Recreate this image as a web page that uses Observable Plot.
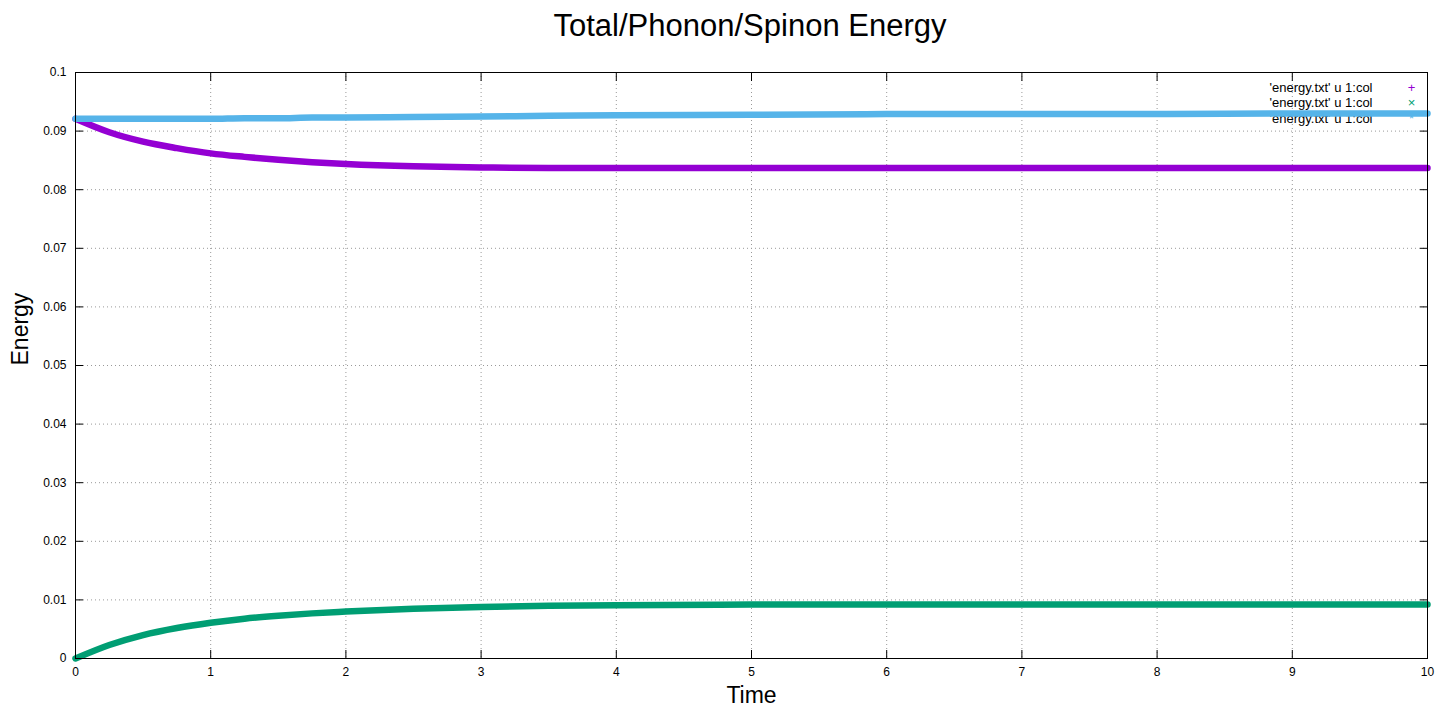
<!DOCTYPE html>
<html>
<head>
<meta charset="utf-8">
<script src="https://cdn.jsdelivr.net/npm/d3@7"></script>
<script src="https://cdn.jsdelivr.net/npm/@observablehq/plot@0.6"></script>
<style>
  html, body { margin: 0; padding: 0; background: #fff; }
  #title { width: 1448px; height: 50px; line-height: 52px; text-align: center; box-sizing: border-box; padding-left: 52px;
           font-family: "Liberation Sans", Arial, sans-serif; font-size: 31px; color: #000; }
  #chart svg { display: block; }
</style>
</head>
<body>
<div id="title">Total/Phonon/Spinon Energy</div>
<div id="chart"></div>
<script>
const time    = [0, 0.25, 0.5, 0.75, 1, 1.25, 1.5, 1.75, 2, 2.5, 3, 3.5, 4, 5, 6, 7, 8, 9, 10];
const spinon  = [0.0921, 0.0898, 0.0882, 0.0871, 0.0862, 0.0856, 0.0851, 0.0847, 0.0844, 0.0840, 0.0838, 0.0837, 0.0837, 0.0837, 0.0837, 0.0837, 0.0837, 0.0837, 0.0837];
const phonon  = [0.0000, 0.0023, 0.0040, 0.0052, 0.0061, 0.0068, 0.0073, 0.0077, 0.0080, 0.0085, 0.0088, 0.0090, 0.0091, 0.0092, 0.0092, 0.0092, 0.0092, 0.0092, 0.0092];
const total   = [0.0921, 0.0921, 0.0921, 0.0921, 0.0921, 0.0922, 0.0922, 0.0923, 0.0923, 0.0924, 0.0925, 0.0926, 0.0927, 0.0928, 0.0929, 0.0929, 0.0929, 0.0930, 0.0930];
const seriesNames  = ["spinon", "phonon", "total"];
const seriesColors = ["#9400d3", "#009e73", "#56b4e9"];
const legendLabels = ["'energy.txt' u 1:col", "'energy.txt' u 1:col", "'energy.txt' u 1:col"];
const legendSymbols = ["+", "×", "*"];
const xTicks = [0, 1, 2, 3, 4, 5, 6, 7, 8, 9, 10];
const yTicks = [0, 0.01, 0.02, 0.03, 0.04, 0.05, 0.06, 0.07, 0.08, 0.09, 0.1];

const seriesValues = [spinon, phonon, total];
const rows = seriesNames.flatMap((s, k) => time.map((t, i) => ({series: s, t, e: seriesValues[k][i]})));

const font = "Liberation Sans, Arial, sans-serif";
const legendMarks = legendLabels.flatMap((lab, i) => [
  Plot.text([lab], {frameAnchor: "top-right", dx: -55, dy: 10 + i * 15.5, fontSize: 13, fill: "#000", textAnchor: "end"}),
  Plot.text([legendSymbols[i]], {frameAnchor: "top-right", dx: -16, dy: 10 + i * 15.5, fontSize: 13, fill: seriesColors[i], textAnchor: "middle"})
]);

const chart = Plot.plot({
  width: 1448,
  height: 658,
  marginTop: 22,
  marginBottom: 50,
  marginLeft: 75,
  marginRight: 21,
  style: {fontFamily: font, fontSize: "12px", color: "#000", background: "#fff"},
  x: {domain: [0, 10], label: null},
  y: {domain: [0, 0.1], label: null},
  color: {domain: seriesNames, range: seriesColors},
  marks: [
    Plot.gridX(xTicks, {stroke: "#999", strokeOpacity: 1, strokeDasharray: "1,3", strokeWidth: 1}),
    Plot.gridY(yTicks, {stroke: "#999", strokeOpacity: 1, strokeDasharray: "1,3", strokeWidth: 1}),
    Plot.axisX(xTicks, {tickSize: 0, tickPadding: 9, tickFormat: d => String(d), fontSize: 12, label: null}),
    Plot.axisY(yTicks, {tickSize: 0, tickPadding: 9, tickFormat: d => String(+d.toFixed(2)), fontSize: 12, label: null}),
    ...legendMarks,
    Plot.line(rows, {x: "t", y: "e", z: "series", stroke: "series", strokeWidth: 6.5, curve: "monotone-x"}),
    Plot.axisX(xTicks, {anchor: "bottom", tickSize: -8, tickFormat: () => "", label: null}),
    Plot.axisX(xTicks, {anchor: "top", tickSize: -8, tickFormat: () => "", label: null}),
    Plot.axisY(yTicks, {anchor: "left", tickSize: -8, tickFormat: () => "", label: null}),
    Plot.axisY(yTicks, {anchor: "right", tickSize: -8, tickFormat: () => "", label: null}),
    Plot.frame({stroke: "#000", strokeWidth: 1}),
    Plot.text(["Time"], {frameAnchor: "bottom", dy: 44, fontSize: 23, fill: "#000"}),
    Plot.text(["Energy"], {frameAnchor: "left", dx: -55, rotate: -90, fontSize: 23, fill: "#000"})
  ]
});
document.getElementById("chart").appendChild(chart);
</script>
</body>
</html>
